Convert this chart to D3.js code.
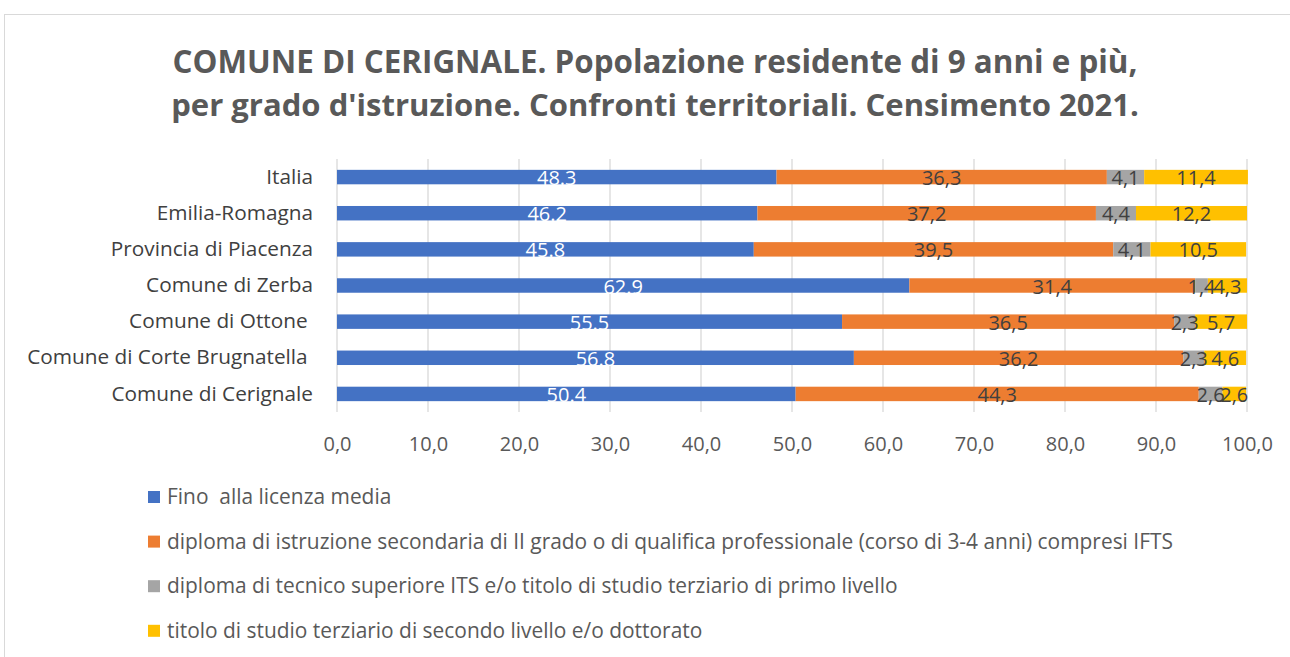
<!DOCTYPE html>
<html><head><meta charset="utf-8">
<script src="https://cdn.jsdelivr.net/npm/d3@7"></script>
<style>body{margin:0;background:#fff}svg{display:block}text{font-family:"Open Sans","Noto Sans",sans-serif}</style>
</head><body><svg id="c" width="1290" height="657"></svg>
<script>
const categories = ["Italia","Emilia-Romagna","Provincia di Piacenza","Comune di Zerba","Comune di Ottone ","Comune di Corte Brugnatella ","Comune di Cerignale"];
const seriesNames = ["Fino  alla licenza media",
 "diploma di istruzione secondaria di II grado o di qualifica professionale (corso di 3-4 anni) compresi IFTS",
 "diploma di tecnico superiore ITS e/o titolo di studio terziario di primo livello",
 "titolo di studio terziario di secondo livello e/o dottorato"];
const fino = [48.3,46.2,45.8,62.9,55.5,56.8,50.4];
const diploma2 = [36.3,37.2,39.5,31.4,36.5,36.2,44.3];
const terziario1 = [4.1,4.4,4.1,1.4,2.3,2.3,2.6];
const terziario2 = [11.4,12.2,10.5,4.3,5.7,4.6,2.6];
const xTicks = [0,10,20,30,40,50,60,70,80,90,100];
const colors = ["#4472C4","#ED7D31","#A5A5A5","#FFC000"];
const titleLines = ["COMUNE DI CERIGNALE. Popolazione residente di 9 anni e più,","per grado d'istruzione. Confronti territoriali. Censimento 2021."];

const svg = d3.select("#c");
svg.append("rect").attr("x",4.5).attr("y",14.5).attr("width",1300).attr("height",700).attr("fill","#fff").attr("stroke","#d9d9d9");

function fit(sel, target){
  sel.each(function(){
    const fs = parseFloat(this.getAttribute("font-size"));
    const w = this.getComputedTextLength();
    if (w>0) this.setAttribute("font-size", (fs*target/w).toFixed(2));
  });
}

const x = d3.scaleLinear().domain([0,100]).range([337,1247]);
const y = d3.scaleBand().domain(categories).range([159,412]).paddingInner(0.6).paddingOuter(0.3);

// title
const tt = svg.append("g").selectAll("text").data(titleLines).join("text")
  .attr("x",655).attr("y",(d,i)=>73+i*43).attr("text-anchor","middle")
  .attr("font-size",28).attr("font-weight","bold").attr("fill","#595959").text(d=>d);
tt.each(function(d,i){ fit(d3.select(this), i===0?965:968); });

// grid
svg.append("g").selectAll("line").data(xTicks).join("line")
  .attr("x1",d=>x(d)).attr("x2",d=>x(d)).attr("y1",159).attr("y2",412)
  .attr("stroke","#d9d9d9").attr("stroke-width",1.3);

// x axis labels
const xa = svg.append("g").attr("transform","translate(0,412)")
  .call(d3.axisBottom(x).tickValues(xTicks).tickSize(0).tickPadding(25).tickFormat(d=>d3.format(".1f")(d).replace(".",",")));
xa.select(".domain").remove();
xa.selectAll("text").attr("font-size",20).attr("fill","#595959").style("font-family","'Open Sans',sans-serif");

// y axis labels
const ya = svg.append("g").attr("transform","translate(337,0)")
  .call(d3.axisLeft(y).tickSize(0).tickPadding(24));
ya.select(".domain").remove();
ya.selectAll("text").attr("font-size",20).attr("fill","#404040").style("font-family","'Open Sans',sans-serif").style("white-space","pre").attr("xml:space","preserve");
{
  const longest = ya.selectAll("text").filter(d=>d==="Comune di Corte Brugnatella ");
  const w = longest.node().getComputedTextLength();
  ya.selectAll("text").attr("font-size",(20*286/w).toFixed(2));
}

// stacked bars
const rows = categories.map((c,i)=>({cat:c, s0:fino[i], s1:diploma2[i], s2:terziario1[i], s3:terziario2[i]}));
const stack = d3.stack().keys(["s0","s1","s2","s3"])(rows);
const barG = svg.append("g");
const labG = svg.append("g");
stack.forEach((layer,k)=>{
  barG.append("g").selectAll("rect").data(layer).join("rect")
    .attr("x",d=>x(d[0])).attr("width",d=>x(d[1])-x(d[0]))
    .attr("y",d=>y(d.data.cat)).attr("height",y.bandwidth()).attr("fill",colors[k]);
  labG.append("g").selectAll("text").data(layer).join("text")
    .attr("x",d=>(x(d[0])+x(d[1]))/2).attr("y",d=>y(d.data.cat)+y.bandwidth()/2+8)
    .attr("text-anchor","middle").attr("font-size",20)
    .attr("fill",k===0?"#ffffff":"#404040")
    .text(d=>{const v=d.data["s"+k]; return k===0? v.toFixed(1) : v.toFixed(1).replace(".",",");});
});

// legend
const lg = svg.append("g").selectAll("g").data(seriesNames).join("g")
  .attr("transform",(d,i)=>`translate(148,${497+i*44.6})`);
lg.append("rect").attr("x",0).attr("y",-6).attr("width",12).attr("height",12).attr("fill",(d,i)=>colors[i]);
const lt = lg.append("text").attr("x",19).attr("y",7).attr("font-size",18).attr("fill","#595959").style("white-space","pre").attr("xml:space","preserve").text(d=>d);
{
  const w = lt.filter((d,i)=>i===1).node().getComputedTextLength();
  lt.attr("font-size",(18*1006/w).toFixed(2));
}
</script></body></html>
